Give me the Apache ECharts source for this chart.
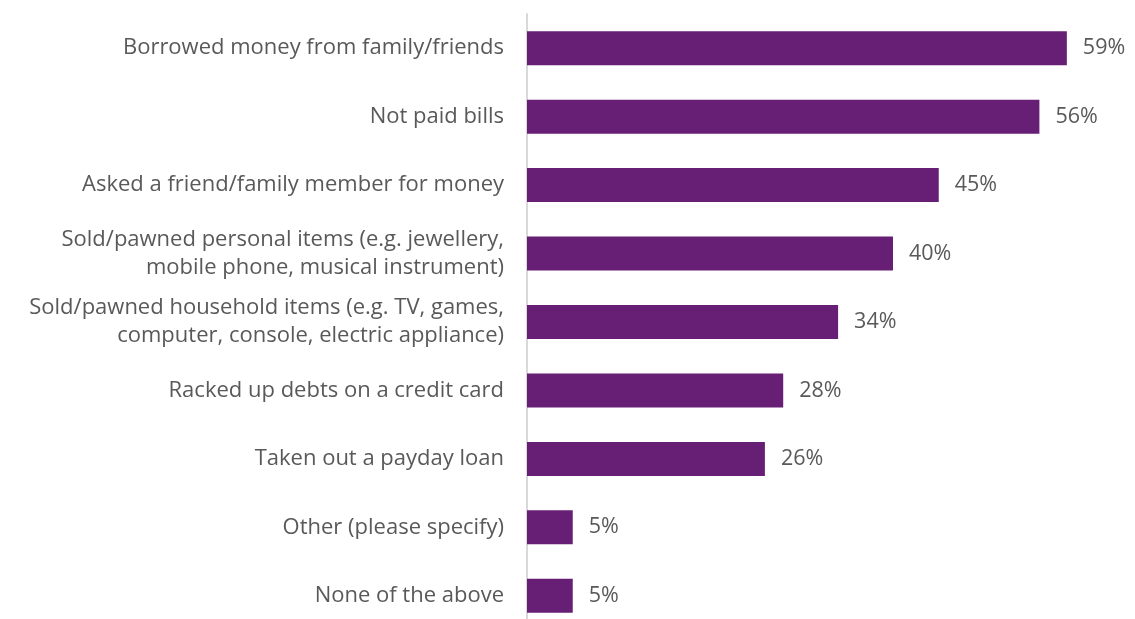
<!DOCTYPE html>
<html>
<head>
<meta charset="utf-8">
<script src="https://cdn.jsdelivr.net/npm/echarts@6/dist/echarts.min.js"></script>
<style>
  html, body { margin: 0; padding: 0; background: #ffffff; }
  #chart { width: 1135px; height: 619px; }
</style>
</head>
<body>
<div id="chart"></div>
<script>
// Actions taken, listed top to bottom
const categories = [
  'Borrowed money from family/friends',
  'Not paid bills',
  'Asked a friend/family member for money',
  'Sold/pawned personal items (e.g. jewellery,\nmobile phone, musical instrument)',
  'Sold/pawned household items (e.g. TV, games,\ncomputer, console, electric appliance)',
  'Racked up debts on a credit card',
  'Taken out a payday loan',
  'Other (please specify)',
  'None of the above'
];
// Share of respondents, percent
const values = [59, 56, 45, 40, 34, 28, 26, 5, 5];

const textColor = '#595959';
const fontFamily = '"Open Sans", sans-serif';

const chart = echarts.init(document.getElementById('chart'), null, { renderer: 'canvas' });
chart.setOption({
  animation: false,
  backgroundColor: '#ffffff',
  grid: {
    left: 527, width: 549, top: 14, height: 616,
    containLabel: false,
    outerBoundsMode: 'none'
  },
  xAxis: {
    type: 'value',
    min: 0,
    max: 60,
    show: false
  },
  yAxis: {
    type: 'category',
    inverse: true,
    data: categories,
    axisLine: { show: true, lineStyle: { color: '#d9d9d9', width: 2 } },
    axisTick: { show: false },
    splitLine: { show: false },
    axisLabel: {
      margin: 23,
      color: textColor,
      fontFamily: fontFamily,
      fontSize: 22,
      lineHeight: 28,
      align: 'right'
    }
  },
  series: [{
    type: 'bar',
    data: values,
    barWidth: 34,
    itemStyle: { color: '#671e75' },
    label: {
      show: true,
      position: 'right',
      distance: 16,
      formatter: '{c}%',
      color: textColor,
      fontFamily: fontFamily,
      fontSize: 21.5
    }
  }]
});
</script>
</body>
</html>
